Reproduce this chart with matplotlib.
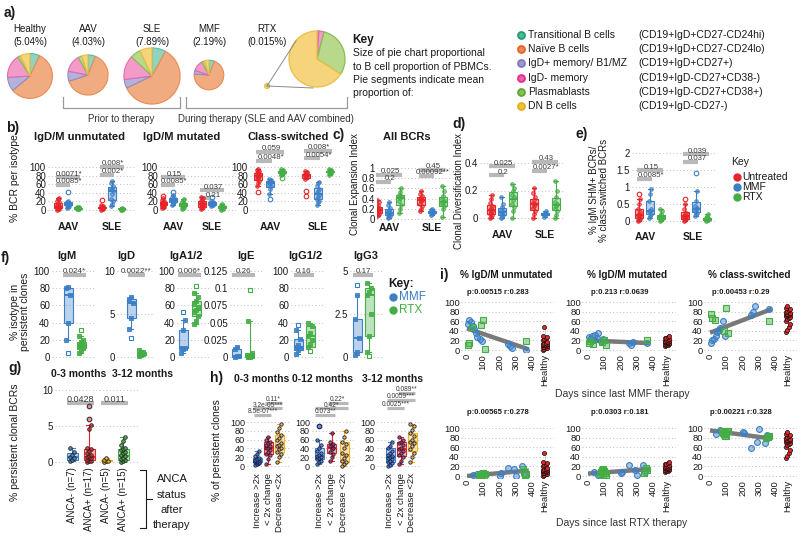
import numpy as np
import matplotlib
matplotlib.use("Agg")
import matplotlib.pyplot as plt
from matplotlib.colors import to_rgba

W, H = 800, 547
plt.rcParams['font.family'] = ['Liberation Sans', 'DejaVu Sans']

# ======================= DATA =======================
# a) pies
pie_groups = ["Healthy", "AAV", "SLE", "MMF", "RTX"]
pie_bcell_pct = [5.04, 4.03, 7.89, 2.19, 0.015]
pie_pct_labels = ["(5.04%)", "(4.03%)", "(7.89%)", "(2.19%)", "(0.015%)"]
subsets = ["Transitional B cells", "Naïve B cells", "IgD+ memory/ B1/MZ",
           "IgD- memory", "Plasmablasts", "DN B cells"]
subset_markers = ["(CD19+IgD+CD27-CD24hi)", "(CD19+IgD+CD27-CD24lo)", "(CD19+IgD+CD27+)",
                  "(CD19+IgD-CD27+CD38-)", "(CD19+IgD-CD27+CD38+)", "(CD19+IgD-CD27-)"]
pie_healthy = [7, 57, 10, 17, 2, 7]
pie_aav = [6, 64, 8, 14, 3, 5]
pie_sle = [8, 60, 5, 14, 6, 7]
pie_mmf = [6, 70, 4, 12, 3, 5]
pie_rtx = [0.5, 0.5, 0.1, 3, 30, 66]

# b-e) groups: [Untreated, MMF, RTX] for AAV and SLE
treatments = ["Untreated", "MMF", "RTX"]
diseases = ["AAV", "SLE"]
b_titles = ["IgD/M unmutated", "IgD/M mutated", "Class-switched"]
b_unmut_aav = [[1, 2, 3, 4, 5, 6, 7, 8, 9, 11, 14, 18, 22, 26, 29],
               [5, 8, 10, 11, 12, 13, 14, 15, 17, 19, 22, 43],
               [2, 3, 3, 4, 4, 5, 5, 5, 6, 7]]
b_unmut_sle = [[1, 2, 3, 4, 5, 5, 6, 7, 9, 12, 24],
               [10, 14, 20, 25, 38, 45, 48, 52, 56, 62, 67],
               [0.5, 1, 1.5, 2, 2, 3, 3, 4]]
b_mut_aav = [[4, 6, 8, 10, 11, 12, 13, 14, 15, 16, 18, 20, 24, 28, 33],
             [12, 15, 18, 20, 21, 22, 23, 25, 27, 30, 35, 43],
             [3, 5, 7, 9, 10, 11, 12, 14, 16, 19, 23, 25]]
b_mut_sle = [[2, 4, 6, 8, 10, 12, 14, 15, 17, 20, 24, 28, 31],
             [9, 11, 12, 13, 14, 15, 16, 17, 19, 21, 31],
             [1, 2, 3, 4, 5, 6, 7, 8, 10, 12, 15]]
b_cs_aav = [[42, 55, 62, 68, 72, 75, 78, 80, 82, 84, 86, 88, 90, 92, 95],
            [25, 38, 50, 56, 58, 62, 64, 66, 68, 70, 73],
            [75, 82, 84, 86, 87, 88, 89, 90, 91, 93, 95]]
b_cs_sle = [[33, 45, 72, 76, 78, 80, 82, 83, 84, 86, 88, 90],
            [12, 18, 22, 26, 30, 35, 40, 45, 50, 56, 62, 66],
            [82, 85, 87, 88, 89, 90, 91, 92, 93, 95]]
b_unmut_p = [["0.0071*", "0.0085*"], ["0.008*", "0.002*"]]
b_mut_p = [["0.15", "0.0085*"], ["0.037", "0.21"]]
b_cs_p = [["0.059", "0.0048*"], ["0.008*", "0.0054*"]]

c_aav = [[0.05, 0.08, 0.1, 0.12, 0.14, 0.15, 0.17, 0.19, 0.21, 0.24, 0.28, 0.33, 0.38],
         [0.02, 0.04, 0.06, 0.08, 0.1, 0.12, 0.15, 0.18, 0.22, 0.28, 0.34],
         [0.12, 0.2, 0.28, 0.35, 0.42, 0.45, 0.48, 0.52, 0.6]]
c_sle = [[0.15, 0.2, 0.25, 0.3, 0.35, 0.38, 0.4, 0.42, 0.45, 0.5, 0.55],
         [0.08, 0.1, 0.12, 0.13, 0.14, 0.16, 0.18, 0.2],
         [0.04, 0.2, 0.25, 0.3, 0.33, 0.35, 0.4, 0.45, 0.55, 0.65]]
c_p = [["0.025", "0.2"], ["0.45", "0.00092**"]]

d_aav = [[0.0, 0.01, 0.02, 0.03, 0.04, 0.05, 0.06, 0.07, 0.09, 0.11, 0.14, 0.17],
         [0.0, 0.01, 0.02, 0.03, 0.04, 0.05, 0.06, 0.08, 0.1, 0.15],
         [0.0, 0.05, 0.08, 0.1, 0.13, 0.15, 0.17, 0.2, 0.22, 0.25]]
d_sle = [[0.0, 0.03, 0.05, 0.07, 0.09, 0.1, 0.11, 0.13, 0.15, 0.18, 0.22],
         [0.01, 0.02, 0.03, 0.03, 0.04, 0.05],
         [0.0, 0.02, 0.05, 0.07, 0.09, 0.1, 0.12, 0.15, 0.2, 0.27]]
d_p = [["0.025", "0.2"], ["0.43", "0.0027*"]]

e_aav = [[0.0, 0.03, 0.06, 0.1, 0.12, 0.15, 0.18, 0.22, 0.27, 0.35, 0.5, 0.65, 0.8],
         [0.1, 0.15, 0.2, 0.28, 0.3, 0.35, 0.6, 0.8, 0.95],
         [0.0, 0.03, 0.06, 0.08, 0.1, 0.12, 0.15, 0.2, 0.28, 0.35]]
e_sle = [[0.0, 0.02, 0.05, 0.08, 0.1, 0.12, 0.15, 0.2, 0.25, 0.35, 0.5, 0.65],
         [0.15, 0.2, 0.25, 0.3, 0.35, 0.38, 0.45, 0.6, 0.88, 1.4],
         [0.0, 0.02, 0.03, 0.05, 0.06, 0.08, 0.1, 0.15, 0.2]]
e_p = [["0.15", "0.0085*"], ["0.039", "0.037"]]

# f) isotype in persistent clones: stats = (whislo, q1, med, q3, whishi)
f_isotypes = ["IgM", "IgD", "IgA1/2", "IgE", "IgG1/2", "IgG3"]
f_top = [100, 10, 100, 0.125, 100, 5]
f_ticks = [[0, 20, 40, 60, 80, 100], [0, 5, 10], [0, 20, 40, 60, 80, 100],
           [0, 0.025, 0.05, 0.075, 0.1, 0.125], [0, 20, 40, 60, 80, 100], [0, 2.5, 5]]
f_ticklabels = [["0", "20", "40", "60", "80", "100"], ["0", "5", "10"],
                ["0", "20", "40", "60", "80", "100"],
                ["0", "0.025", "0.05", "0.075", "0.1", "0.125"],
                ["0", "20", "40", "60", "80", "100"], ["0", "2.5", "5"]]
f_p = ["0.024*", "0.0022**", "0.006*", "0.26", "0.16", "0.17"]
f_mmf_stats = [(20, 40, 72, 80, 81), (3.2, 4.5, 6.3, 6.8, 7.0), (5, 10, 10, 31, 43),
               (0, 0, 0.002, 0.012, 0.015), (3, 8, 12, 21, 31), (0.1, 0.3, 1.1, 2.2, 3.6)]
f_mmf_fliers = [[5], [2.2], [52], [], [37], [4.2]]
f_mmf_pts = [[20, 40, 72, 80, 81], [3.2, 4.5, 6.3, 6.8, 7.0], [5, 9, 10, 11, 31, 43],
             [0, 0.001, 0.002, 0.012, 0.015], [3, 8, 10, 12, 14, 21, 31], [0.1, 0.3, 1.1, 2.2, 3.6]]
f_rtx_stats = [(5, 10, 13, 17, 24), (0.1, 0.25, 0.4, 0.6, 0.8), (38, 48, 55, 65, 75),
               (0, 0, 0.002, 0.006, 0.053), (12, 12, 24, 36, 40), (0.3, 1.2, 3.6, 4.0, 4.3)]
f_rtx_fliers = [[31], [], [83], [0.098], [7], [0.05]]
f_rtx_pts = [[5, 8, 10, 12, 13, 14, 15, 17, 20, 24], [0.1, 0.2, 0.3, 0.4, 0.5, 0.6, 0.8],
             [38, 42, 48, 52, 55, 58, 62, 65, 70, 75], [0, 0, 0.001, 0.002, 0.003, 0.006, 0.053],
             [12, 15, 20, 24, 28, 36, 40], [0.3, 1.2, 2.5, 3.6, 3.8, 4.0, 4.3]]

# g) % persistent clonal BCRs by ANCA status
g_labels = ["ANCA- (n=7)", "ANCA+ (n=17)", "ANCA- (n=5)", "ANCA+ (n=15)"]
g_stats = [(0.1, 0.3, 0.7, 1.2, 2.0), (0, 0.3, 0.7, 1.8, 5.2),
           (0, 0.1, 0.2, 0.3, 0.5), (0, 0.3, 0.8, 1.8, 3.5)]
g_fliers = [[], [6.0, 7.8], [], []]
g_pts = [[0.1, 0.3, 0.6, 0.7, 1.0, 1.4, 2.0],
         [0, 0.1, 0.2, 0.3, 0.5, 0.6, 0.7, 0.8, 1.0, 1.2, 1.5, 1.8, 2.0, 4.6, 5.2],
         [0, 0.1, 0.2, 0.3, 0.5],
         [0, 0.1, 0.3, 0.4, 0.6, 0.8, 1.0, 1.2, 1.4, 1.6, 1.8, 2.0, 2.4, 2.9, 3.5]]
g_p = ["0.0428", "0.011"]

# h) % of persistent clones
h_titles = ["0-3 months", "0-12 months", "3-12 months"]
h_cats = ["Increase >2x", "< 2x change", "Decrease <2x"]
h_stats = [[(2, 8, 12, 18, 35), (5, 28, 42, 55, 65), (10, 32, 48, 70, 95)],
           [(5, 15, 22, 40, 60), (12, 30, 42, 50, 75), (0, 10, 25, 55, 80)],
           [(0, 8, 20, 40, 55), (5, 22, 38, 55, 65), (10, 35, 55, 75, 95)]]
h_fliers = [[[], [], []], [[90], [], []], [[], [], []]]
h_pts = [[[2, 4, 6, 8, 9, 10, 11, 12, 13, 14, 16, 18, 22, 28, 35],
          [5, 15, 25, 28, 32, 36, 40, 42, 45, 48, 52, 55, 60, 65],
          [10, 20, 28, 32, 38, 42, 46, 48, 52, 58, 64, 70, 78, 86, 95]],
         [[5, 8, 12, 15, 18, 20, 22, 25, 30, 35, 40, 48, 60],
          [12, 20, 28, 32, 38, 42, 45, 48, 50, 55, 75],
          [0, 5, 8, 12, 18, 25, 30, 40, 50, 55, 65, 80]],
         [[0, 3, 6, 8, 12, 15, 18, 20, 22, 25, 30, 35, 40, 45, 55],
          [5, 12, 20, 25, 30, 35, 38, 42, 48, 52, 55, 60, 65],
          [10, 20, 30, 38, 45, 52, 55, 60, 68, 75, 82, 90, 95]]]
h_p = [["0.11*", "3.2e-05***", "8.5e-07***"],
       ["0.22*", "0.42*", "0.073**"],
       ["0.089**", "0.0059***", "0.0025***"]]

# i) correlation with days since last therapy
i_titles = ["% IgD/M unmutated", "% IgD/M mutated", "% class-switched"]
i_top_stats = ["p:0.00515 r:0.283", "p:0.213 r:0.0639", "p:0.00453 r:0.29"]
i_bot_stats = ["p:0.00565 r:0.278", "p:0.0303 r:0.181", "p:0.00221 r:0.328"]
top_blue_days = [5, 15, 25, 35, 45, 55, 60, 80, 90, 250, 265, 275, 360]
top_blue_vals = [[55, 62, 58, 50, 44, 35, 28, 22, 18, 12, 9, 5, 1],
                 [28, 22, 30, 20, 32, 25, 35, 18, 22, 15, 10, 16, 14],
                 [14, 20, 23, 30, 37, 42, 46, 61, 30, 73, 80, 92, 85]]
top_green_days = [6, 12, 30, 85, 96, 110, 362]
top_green_vals = [[10, 15, 48, 52, 62, 3, 18],
                  [14, 18, 12, 16, 20, 10, 21],
                  [76, 66, 62, 39, 87, 35, 61]]
top_fit_intercept = [45, 20, 36]
top_fit_slope = [-0.115, -0.015, 0.13]
bot_blue_days = [35, 62, 88, 205, 211, 252, 287, 301, 338, 349]
bot_blue_vals = [[3, 4, 6, 1, 6, 17, 15, 1, 21, 5],
                 [8, 2, 10, 6, 9, 23, 13, 2, 23, 8],
                 [88, 95, 90, 92, 90, 58, 70, 97, 69, 86]]
bot_green_days = [75, 80, 85, 90, 95, 100, 105, 110, 345, 355, 360]
bot_green_vals = [[1, 3, 0, 5, 2, 6, 1, 4, 15, 2, 5],
                  [5, 8, 12, 3, 15, 10, 6, 2, 6, 16, 12],
                  [94, 89, 88, 92, 83, 84, 93, 94, 79, 82, 83]]
bot_fit_intercept = [0, 5, 95]
bot_fit_slope = [0.03, 0.025, -0.045]
healthy_vals = [[0, 2, 4, 5, 6, 7, 8, 9, 10, 10, 11, 12, 13, 14, 15, 17, 20, 22, 25, 28, 30, 47],
                [8, 10, 11, 12, 13, 14, 15, 15, 16, 16, 17, 18, 19, 20, 21, 22, 24, 26, 28, 30],
                [38, 42, 48, 55, 60, 64, 66, 68, 70, 72, 73, 74, 75, 76, 77, 78, 80, 82, 84, 86, 88, 92]]

# ======================= STYLE / HELPERS =======================
RED, BLUE, GREEN, YELLOW = '#e5252a', '#3b7fc6', '#44ad45', '#f2b51c'
TREAT_COLORS = [RED, BLUE, GREEN]
TXT = '#1a1a1a'

fig = plt.figure(figsize=(W / 100, H / 100), dpi=100)
pa = fig.add_axes([0, 0, 1, 1])
pa.axis('off')


def T(x, y, s, size=7.5, weight='normal', ha='center', va='center', rot=0, color=TXT, **kw):
    ov.text(x, y, s, fontsize=size, fontweight=weight, ha=ha, va=va, rotation=rot,
            color=color, **kw)


def make_ax(left, right, g0, g1, ylim, v0, p0, v1, p1):
    s = (p0 - p1) / (v1 - v0)
    bottom = p0 + (v0 - ylim[0]) * s
    top = p0 - (ylim[1] - v0) * s
    ax = fig.add_axes([left / W, 1 - bottom / H, (right - left) / W, (bottom - top) / H])
    unit = float(g1 - g0)
    ax.set_xlim((left - g0) / unit, (right - g0) / unit)
    ax.set_ylim(*ylim)
    for sp in ax.spines.values():
        sp.set_visible(False)
    ax.patch.set_alpha(0)
    ax.tick_params(length=0, labelsize=7, pad=1.5, colors=TXT)
    ax.yaxis.grid(True, ls=(0, (1, 2.5)), color='#bdbdbd', lw=0.7)
    ax.set_axisbelow(True)
    ax.set_xticks([])
    return ax, unit


def bx(ax, stats, fliers, pts, pos, c, w, pm='o', pface=None, pedge=None,
       fm='o', fface='white', fedge=None, ms=2.6, alpha=0.35, lw=0.8):
    st = dict(whislo=stats[0], q1=stats[1], med=stats[2], q3=stats[3], whishi=stats[4],
              fliers=list(fliers))
    ax.bxp([st], positions=[pos], widths=w, patch_artist=True, manage_ticks=False,
           capwidths=w * 0.5,
           boxprops=dict(facecolor=to_rgba(c, alpha), edgecolor=c, linewidth=lw),
           medianprops=dict(color=c, linewidth=lw + 0.6),
           whiskerprops=dict(color=c, linewidth=lw), capprops=dict(color=c, linewidth=lw),
           flierprops=dict(marker=fm, markerfacecolor=fface, markeredgecolor=fedge or c,
                           markersize=3.3, markeredgewidth=0.8))
    p = np.sort(np.asarray(pts, float))
    offs = ((np.arange(len(p)) % 3) - 1) * w * 0.18
    ax.plot(pos + offs, p, ls='none', marker=pm, ms=ms, mfc=pface or to_rgba(c, 0.55),
            mec=pedge or c, mew=0.6, zorder=3)


def bx_auto(ax, vals, pos, c, w):
    v = np.sort(np.asarray(vals, float))
    q1, med, q3 = np.percentile(v, [25, 50, 75])
    iqr = q3 - q1
    inside = v[(v >= q1 - 1.5 * iqr) & (v <= q3 + 1.5 * iqr)]
    fl = v[(v < q1 - 1.5 * iqr) | (v > q3 + 1.5 * iqr)]
    bx(ax, (inside.min(), q1, med, q3, inside.max()), fl, inside, pos, c, w)


def annot(ax, x0, x1, y, text, fs=5.8, lw=3, xc=None):
    ax.plot([x0, x1], [y, y], color='#b8b8b8', lw=lw, solid_capstyle='butt', zorder=1,
            clip_on=False)
    if xc is None:
        xc = (x0 + x1) / 2
    ax.annotate(text, (xc, y), xytext=(0, 2.3), textcoords='offset points',
                ha='center', va='center', fontsize=fs, color='#3a3a3a', zorder=2,
                annotation_clip=False)


def group_panel(left, right, g0, g1, off, ylim, v0, p0, v1, p1, ticks, tlabels,
                data, pv, bars, boxw=8):
    ax, unit = make_ax(left, right, g0, g1, ylim, v0, p0, v1, p1)
    ax.set_yticks(ticks)
    ax.set_yticklabels(tlabels)
    o = off / unit
    w = boxw / unit
    for g, grp in enumerate(data):
        for s, vals in enumerate(grp):
            bx_auto(ax, vals, g + (s - 1) * o, TREAT_COLORS[s], w)
        for txt, yb, pair in zip(pv[g], bars[g], [(0, 2), (0, 1)]):
            annot(ax, g + (pair[0] - 1) * o - w * 0.3, g + (pair[1] - 1) * o + w * 0.3, yb, txt,
                  fs=5.6, xc=g + 0.1 * o)
    return ax


ov = fig.add_axes([0, 0, 1, 1], zorder=10)
ov.set_xlim(0, W)
ov.set_ylim(H, 0)
ov.axis('off')

# ======================= a) =======================
pie_faces = ['#8fd4bf', '#f0ab80', '#b5b1d8', '#f29bc9', '#b8d98b', '#f5d47c']
pie_edges = ['#58bd9c', '#e88d52', '#918cc4', '#e66aae', '#88bf4c', '#ebbd45']
pie_sets = [pie_healthy, pie_aav, pie_sle, pie_mmf, pie_rtx]
pie_cx = [30, 88, 152, 209, 267]
pie_cy = [76, 75, 76, 75, 86]
for vals, pct, cx, cy in zip(pie_sets, pie_bcell_pct, pie_cx, pie_cy):
    r = max(10 * np.sqrt(pct), 2.5)
    wedges, _ = pa.pie(vals, colors=pie_faces, radius=r, center=(cx, H - cy), startangle=90,
                       counterclock=False, frame=False)
    for wdg, ec in zip(wedges, pie_edges):
        wdg.set_edgecolor(ec)
        wdg.set_linewidth(0.8)
wedges, _ = pa.pie(pie_rtx, colors=pie_faces, radius=28, center=(317, H - 59), startangle=90,
                   counterclock=False, frame=False)
for wdg, ec in zip(wedges, pie_edges):
    wdg.set_edgecolor(ec)
    wdg.set_linewidth(0.9)
pa.set_xlim(0, W)
pa.set_ylim(0, H)
pa.set_aspect('auto')
ov.plot([267, 296], [86, 41], color='#8a8a8a', lw=0.7)
ov.plot([267, 313], [86, 88], color='#8a8a8a', lw=0.7)

T(4, 13, "a)", size=10, weight='bold', ha='left')
for name, pl, cx in zip(pie_groups, pie_pct_labels, pie_cx):
    T(cx, 29, name, size=7)
    T(cx, 42, pl, size=7)
ov.plot([63, 63, 180, 180], [97, 108, 108, 97], color='#9a9a9a', lw=0.9)
ov.plot([186, 186, 347, 347], [97, 108, 108, 97], color='#9a9a9a', lw=0.9)
T(121, 119, "Prior to therapy", size=7, color='#333')
T(266, 119, "During therapy (SLE and AAV combined)", size=7, color='#333')

T(352, 40, "Key", size=8.5, weight='bold', ha='left')
for yy, line in zip([53, 67, 80, 93], ["Size of pie chart proportional",
                                     "to B cell proportion of PBMCs.",
                                     "Pie segments indicate mean", "proportion of:"]):
    T(353, yy, line, size=7.5, ha='left')
leg_y = [35, 49, 63, 78, 92, 106]
leg_dot = ['#1b9e77', '#e8621f', '#7f78bb', '#e7298a', '#5fa82a', '#e9ad0c']
for yy, c, nm, mk in zip(leg_y, leg_dot, subsets, subset_markers):
    ov.plot(521, yy, 'o', ms=5, mfc=to_rgba(c, 0.75), mec=c, mew=1.3)
    T(528, yy, nm, size=7.5, ha='left')
    T(638, yy, mk, size=7.5, ha='left')

# ======================= b) =======================
T(13, 128, "b)", size=10, weight='bold')
T(15, 178, "% BCR per isotype", size=7.5, rot=90)
b_sets = [[b_unmut_aav, b_unmut_sle], [b_mut_aav, b_mut_sle], [b_cs_aav, b_cs_sle]]
b_pvals = [b_unmut_p, b_mut_p, b_cs_p]
b_bars = [[[76, 58], [101, 82]], [[76, 58], [46, 27]], [[136, 115], [138, 120]]]
b_geom = [(48, 135, 68, 112, 10), (160, 236, 173, 212, 10), (250, 340, 270, 318, 12)]
b_title_x = [80, 182, 288]
for k in range(3):
    left, right, g0, g1, off = b_geom[k]
    group_panel(left, right, g0, g1, off, (-8, 155), 0, 210, 100, 167,
                [0, 20, 40, 60, 80, 100], ["0", "20", "40", "60", "80", "100"],
                b_sets[k], b_pvals[k], b_bars[k])
    T(b_title_x[k], 137, b_titles[k], size=8, weight='bold')
    T(g0, 227, diseases[0], size=7.5, weight='bold')
    T(g1, 227, diseases[1], size=7.5, weight='bold')

# ======================= c) =======================
T(339, 135, "c)", size=10, weight='bold')
T(407, 137, "All BCRs", size=8, weight='bold')
T(355, 184, "Clonal Expansion Index", size=7, rot=90)
group_panel(377, 452, 389, 432, 11, (-0.05, 1.1), 0, 219, 1, 168,
            [0, 0.2, 0.4, 0.6, 0.8, 1], ["0", "0.2", "0.4", "0.6", "0.8", "1"],
            [c_aav, c_sle], c_p, [[0.87, 0.73], [0.97, 0.85]])
T(389, 228, "AAV", size=7.5, weight='bold')
T(432, 228, "SLE", size=7.5, weight='bold')

# ======================= d) =======================
T(459, 124, "d)", size=10, weight='bold')
T(459, 191, "Clonal Diversification Index", size=6.9, rot=90)
group_panel(480, 565, 502, 545, 11, (-0.02, 0.5), 0, 218, 0.4, 163,
            [0, 0.2, 0.4], ["0", "0.2", "0.4"],
            [d_aav, d_sle], d_p, [[0.375, 0.31], [0.41, 0.345]])
T(502, 235, "AAV", size=7.5, weight='bold')
T(545, 235, "SLE", size=7.5, weight='bold')

# ======================= e) =======================
T(582, 134, "e)", size=10, weight='bold')
T(599, 190, "% IgM SHM+ BCRs/\n% class-switched BCRs", size=7, rot=90, linespacing=1.05)
group_panel(632, 715, 650, 696, 11, (-0.1, 2.15), 0, 221, 2, 153,
            [0, 0.5, 1, 1.5, 2], ["0", "0.5", "1", "1.5", "2"],
            [e_aav, e_sle], e_p, [[1.49, 1.25], [1.96, 1.75]])
T(645, 237, "AAV", size=7.5, weight='bold')
T(693, 237, "SLE", size=7.5, weight='bold')
T(731, 162, "Key", size=7.5, ha='left')
for yy, c, nm in zip([177, 187, 197], TREAT_COLORS, treatments):
    ov.plot(737, yy, 'o', ms=5, color=c)
    T(742, yy, nm, size=7.5, ha='left')

# ======================= f) =======================
T(5, 258, "f)", size=10, weight='bold')
T(20, 312, "% isotype in\npersistent clones", size=7.5, rot=90, linespacing=1.1)
f_geom = [(50, 68, 81, 67), (115, 131, 141, 126), (175, 183, 196, 186),
          (228, 237, 250, 246), (289, 298, 310, 305), (348, 357, 369, 366)]
for k in range(6):
    tr, pb, pg, tx = f_geom[k]
    top = f_top[k]
    ax, unit = make_ax(tr + 2, pg + 14, pb, pg, (-0.06 * top, 1.1 * top), 0, 357, top, 271)
    ax.set_yticks(f_ticks[k])
    ax.set_yticklabels(f_ticklabels[k])
    w = 9 / unit
    bx(ax, f_mmf_stats[k], f_mmf_fliers[k], f_mmf_pts[k], 0, BLUE, w, pm='s',
       pface=to_rgba(BLUE, 0.9), fm='s')
    bx(ax, f_rtx_stats[k], f_rtx_fliers[k], f_rtx_pts[k], 1, GREEN, w, pm='s',
       pface=to_rgba(GREEN, 0.9), fm='s')
    annot(ax, -0.35, 1.35, top * (1 - 3.5 / 86), f_p[k], fs=5.8)
    T(tx, 256, f_isotypes[k], size=8, weight='bold')
T(388, 284, "Key:", size=8.5, weight='bold', ha='left')
ov.plot(393, 297, 'o', ms=5, color=BLUE)
ov.plot(393, 310, 'o', ms=5, color=GREEN)
T(399, 297, "MMF", size=8.5, ha='left', color=BLUE)
T(399, 310, "RTX", size=8.5, ha='left', color=GREEN)

# ======================= g) =======================
T(15, 368, "g)", size=10, weight='bold')
T(79, 374, "0-3 months", size=7.5, weight='bold')
T(142, 374, "3-12 months", size=7.5, weight='bold')
T(15, 442, "% persistent clonal BCRs", size=7.5, rot=90)
ax, unit = make_ax(55, 138, 72, 89, (-0.3, 10.6), 0, 462, 10, 390)
ax.set_yticks([0, 5, 10])
g_colors = [BLUE, RED, YELLOW, GREEN]
for i in range(4):
    c = g_colors[i]
    bx(ax, g_stats[i], g_fliers[i], g_pts[i], i, c, 11 / unit, pm='o',
       pface=to_rgba(c, 0.85), pedge='#222', fm='o', fface=to_rgba(c, 0.5), fedge='#333')
ax.set_xticks(range(4))
ax.set_xticklabels(g_labels, rotation=90, fontsize=7, va='top')
ax.tick_params(axis='x', pad=2)
annot(ax, -0.3, 1.3, 8.2, g_p[0], fs=6.5)
annot(ax, 1.7, 3.3, 8.2, g_p[1], fs=6.5)
ov.plot([140, 146, 146, 140], [470, 470, 528, 528], color=TXT, lw=0.8)
ov.plot([146, 152], [499, 499], color=TXT, lw=0.8)
for yy, s in zip([479, 495, 510, 525], ["ANCA", "status", "after", "therapy"]):
    T(172, yy, s, size=8)

# ======================= h) =======================
T(217, 378, "h)", size=10, weight='bold')
T(217, 450, "% of persistent clones", size=7.5, rot=90)
h_geom = [(247, 290, 257, 268), (312, 354, 319, 331.5), (377, 422, 390, 401)]
h_title_x = [262, 322, 392]
h_bars = [[144, 131, 116], [144, 131, 116], [166, 150, 132]]
h_colors = [BLUE, RED, YELLOW]
for k in range(3):
    left, right, g0, g1 = h_geom[k]
    ax, unit = make_ax(left, right, g0, g1, (-5, 170), 0, 466, 100, 422)
    ax.set_yticks([0, 20, 40, 60, 80, 100])
    ax.tick_params(axis='y', labelsize=6.5)
    for i in range(3):
        c = h_colors[i]
        bx(ax, h_stats[k][i], h_fliers[k][i], h_pts[k][i], i, c, 9 / unit, pm='o',
           pface=to_rgba(c, 0.8), pedge='#1a1a4a', fm='o', fface=to_rgba(c, 0.8),
           fedge='#1a1a4a', ms=2.4)
    ax.set_xticks(range(3))
    ax.set_xticklabels(h_cats, rotation=90, fontsize=6.8, va='top')
    ax.tick_params(axis='x', pad=3.5)
    for txt, yb, pair in zip(h_p[k], h_bars[k], [(1, 2), (0, 2), (0, 1)]):
        annot(ax, pair[0] - 0.3, pair[1] + 0.3, yb, txt, fs=4.8, lw=2.3)
    T(h_title_x[k], 379, h_titles[k], size=7.5, weight='bold')

# ======================= i) =======================
T(444, 275, "i)", size=10, weight='bold')
i_x0 = [467, 588, 710]
i_hx = [545, 667, 788]
s_day = 0.1625
s_val = 0.48
rows = [(350, top_blue_days, top_blue_vals, top_green_days, top_green_vals,
         top_fit_intercept, top_fit_slope, i_top_stats, 292),
        (476, bot_blue_days, bot_blue_vals, bot_green_days, bot_green_vals,
         bot_fit_intercept, bot_fit_slope, i_bot_stats, 413)]
for (p0, bd, bv, gd, gv, fa, fb, stt, sty) in rows:
    for k in range(3):
        x0 = i_x0[k]
        left, right = x0 - 35 * s_day, x0 + 420 * s_day
        ax = fig.add_axes([left / W, 1 - (p0 + 5 * s_val) / H, (right - left) / W,
                           113 * s_val / H])
        ax.set_xlim(-35, 420)
        ax.set_ylim(-5, 108)
        for sp in ax.spines.values():
            sp.set_visible(False)
        ax.patch.set_alpha(0)
        ax.tick_params(length=0, labelsize=6.8, pad=1.2, colors=TXT)
        ax.yaxis.grid(True, ls=(0, (1, 2.5)), color='#bdbdbd', lw=0.7)
        ax.set_axisbelow(True)
        ax.set_yticks([0, 20, 40, 60, 80, 100])
        ax.set_xticks([0, 100, 200, 300, 400])
        ax.set_xticklabels(["0", "100", "200", "300", "400"], rotation=90, va='top')
        xs = np.array([0, 380])
        ax.plot(xs, fa[k] + fb[k] * xs, color='#4d4d4d', lw=3.2, alpha=0.75,
                solid_capstyle='butt', zorder=2)
        ax.plot(bd, bv[k], ls='none', marker='o', ms=4.2, mfc=to_rgba(BLUE, 0.45), mec=BLUE,
                mew=0.8, zorder=3)
        ax.plot(gd, gv[k], ls='none', marker='s', ms=4.0, mfc=to_rgba(GREEN, 0.45), mec=GREEN,
                mew=0.8, zorder=3)
        hx = i_hx[k]
        axh = fig.add_axes([(hx - 9) / W, 1 - (p0 + 5 * s_val) / H, 18 / W, 113 * s_val / H])
        axh.set_xlim(-1, 1)
        axh.set_ylim(-5, 108)
        for sp in axh.spines.values():
            sp.set_visible(False)
        axh.patch.set_alpha(0)
        axh.tick_params(length=0, labelsize=6.8, pad=1.2, colors=TXT)
        axh.yaxis.grid(True, ls=(0, (1, 2.5)), color='#bdbdbd', lw=0.7)
        axh.set_axisbelow(True)
        axh.set_yticks([0, 20, 40, 60, 80, 100])
        axh.set_yticklabels([])
        axh.set_xticks([0])
        axh.set_xticklabels(["Healthy"], rotation=90, va='top')
        hv = np.sort(np.asarray(healthy_vals[k], float))
        q1, med, q3 = np.percentile(hv, [25, 50, 75])
        axh.bxp([dict(whislo=hv.min(), q1=q1, med=med, q3=q3, whishi=hv.max(), fliers=[])],
                positions=[0], widths=0.9, patch_artist=True, manage_ticks=False,
                showcaps=False,
                boxprops=dict(facecolor='#d9d9d9', edgecolor='#c8c8c8', linewidth=0.6),
                medianprops=dict(color='#aaaaaa', linewidth=0.8),
                whiskerprops=dict(color='#c8c8c8', linewidth=0.6))
        offs = ((np.arange(len(hv)) % 4) - 1.5) * 0.16
        axh.plot(offs, hv, ls='none', marker='o', ms=3.0, mfc=RED, mec='#111', mew=0.5,
                 zorder=3)
        T((x0 + hx) / 2 - 8, sty, stt[k], size=5.5, weight='bold')

for k in range(3):
    T((i_x0[k] + i_hx[k]) / 2, 275, i_titles[k], size=7.2, weight='bold')
T(622, 394, "Days since last MMF therapy", size=7.5, color='#333')
T(622, 523, "Days since last RTX therapy", size=7.5, color='#333')

fig.savefig("out.png", dpi=100)
